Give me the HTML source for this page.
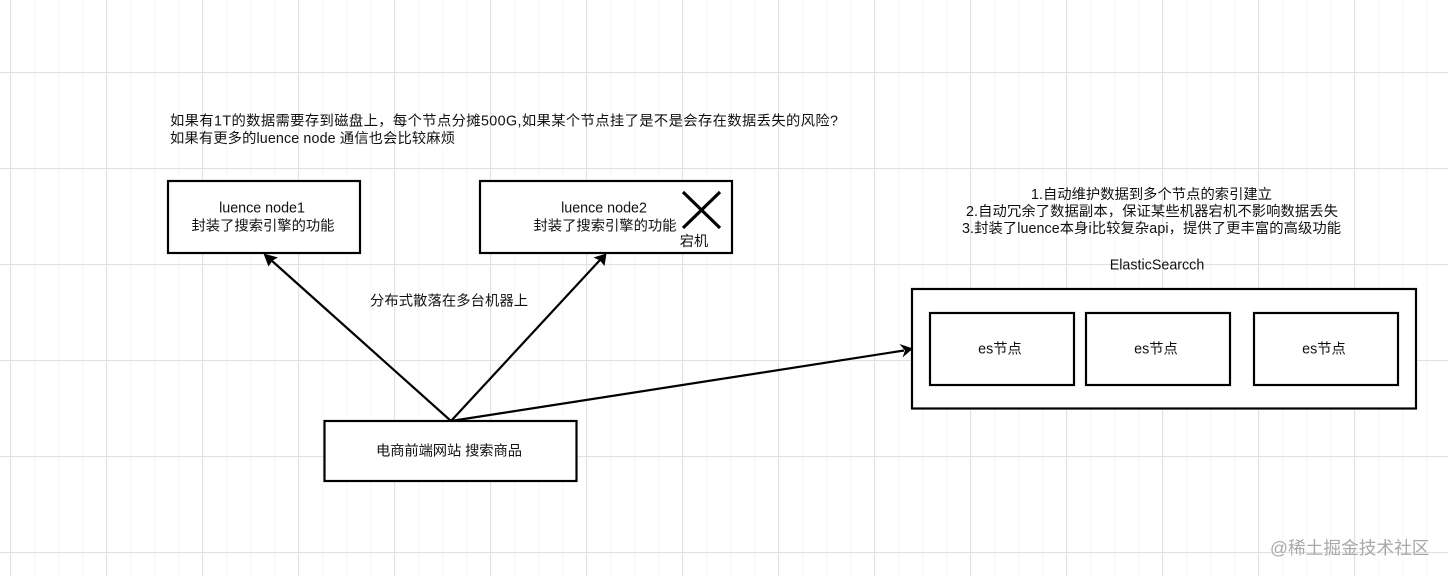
<!DOCTYPE html>
<html><head><meta charset="utf-8"><style>
html,body{margin:0;padding:0;background:#fff}
svg{display:block;filter:blur(.35px)}
text{font-family:"Liberation Sans","Noto Sans CJK SC",sans-serif;font-size:14.3px;fill:#111;dominant-baseline:central}
.m{text-anchor:middle}
</style></head><body>
<svg width="1448" height="576" viewBox="0 0 1448 576" xmlns="http://www.w3.org/2000/svg">
<defs>
<pattern id="minor" width="24" height="24" patternUnits="userSpaceOnUse" x="10" y="0">
<path d="M0.5 0V24" stroke="#f8f8f8" stroke-width="1.5"/>
</pattern>
<pattern id="major" width="96" height="96" patternUnits="userSpaceOnUse" x="10" y="72">
<path d="M0.5 0V96M0 0.5H96" stroke="#e2e2e2" stroke-width="1.3" fill="none"/>
</pattern>
</defs>
<rect width="1448" height="576" fill="#fff"/>
<rect width="1448" height="576" fill="url(#minor)"/>
<rect width="1448" height="576" fill="url(#major)"/>

<g fill="#fff" stroke="#000" stroke-width="2.200">
<rect x="168" y="181" width="192" height="72"/>
<rect x="480" y="181" width="252" height="72"/>
<rect x="324.500" y="421" width="252" height="60"/>
<rect x="912" y="289" width="504" height="119.500"/>
<rect x="930" y="313" width="144" height="72"/>
<rect x="1086" y="313" width="144" height="72"/>
<rect x="1254" y="313" width="144" height="72"/>
</g>

<g stroke="#000" stroke-width="3.200" fill="none">
<path d="M683 192L720 228M720 192L683 228"/>
</g>

<g stroke="#000" stroke-width="2.200" fill="none">
<path d="M451 421L271 260"/>
<path d="M451 421L600 260"/>
<path d="M451 421L904 350.500"/>
</g>
<g fill="#000">
<path d="M263.500 253.500L278 257.500L272.500 260.500L268.500 266.500Z"/>
<path d="M606.500 253.500L604.500 266L600 260.500L593.500 257.500Z"/>
<path d="M913 348.500L902.500 357.500L905 350.500L899.500 344Z"/>
</g>

<text x="170" y="121.500" textLength="668" lengthAdjust="spacing">如果有1T的数据需要存到磁盘上，每个节点分摊500G,如果某个节点挂了是不是会存在数据丢失的风险?</text>
<text x="170" y="139" textLength="285" lengthAdjust="spacing">如果有更多的luence node 通信也会比较麻烦</text>
<text class="m" x="262" y="208.500">luence node1</text>
<text class="m" x="263" y="226.500">封装了搜索引擎的功能</text>
<text class="m" x="604" y="208.500">luence node2</text>
<text class="m" x="605" y="226.500">封装了搜索引擎的功能</text>
<text class="m" x="694" y="242">宕机</text>
<text class="m" x="449" y="301.500" textLength="158" lengthAdjust="spacing">分布式散落在多台机器上</text>
<text class="m" x="449" y="451.500" textLength="146" lengthAdjust="spacing">电商前端网站 搜索商品</text>
<text x="1031" y="195" textLength="241" lengthAdjust="spacing">1.自动维护数据到多个节点的索引建立</text>
<text x="966" y="212" textLength="372" lengthAdjust="spacing">2.自动冗余了数据副本，保证某些机器宕机不影响数据丢失</text>
<text x="962" y="229" textLength="379" lengthAdjust="spacing">3.封装了luence本身i比较复杂api，提供了更丰富的高级功能</text>
<text class="m" x="1157" y="265.500">ElasticSearcch</text>
<text class="m" x="1000" y="349.500">es节点</text>
<text class="m" x="1156" y="349.500">es节点</text>
<text class="m" x="1324" y="349.500">es节点</text>
<text x="1270" y="548" style="font-size:17.700px;fill:#a9a9a9">@稀土掘金技术社区</text>
</svg>
</body></html>
